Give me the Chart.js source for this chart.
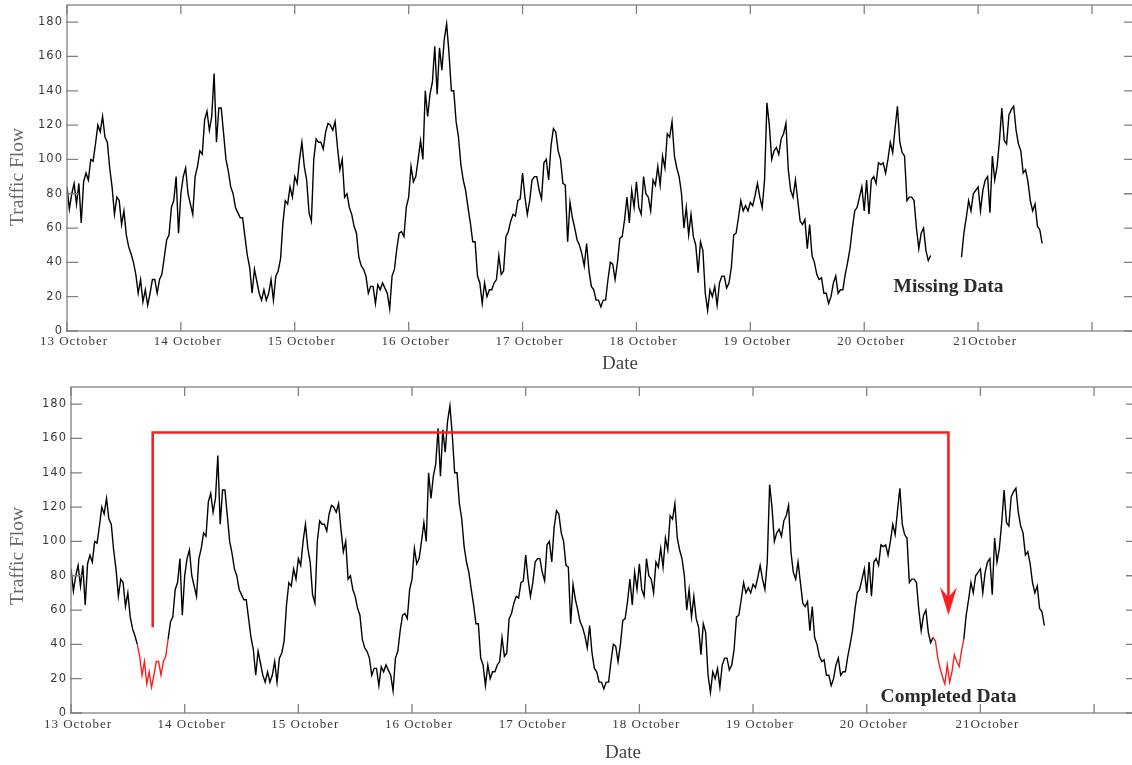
<!DOCTYPE html>
<html>
<head>
<meta charset="utf-8">
<script src="https://cdn.jsdelivr.net/npm/chart.js@4.4.1/dist/chart.umd.min.js"></script>
<style>
  html, body { margin: 0; padding: 0; background: #fff; overflow: hidden; width: 1132px; height: 765px; }
  #wrap { position: relative; width: 1132px; height: 765px; overflow: hidden; }
  canvas { position: absolute; left: 0; }
  #top { top: 0; }
  #bottom { top: 382px; }
</style>
</head>
<body>
<div id="wrap">
  <canvas id="top" width="1140" height="382"></canvas>
  <canvas id="bottom" width="1140" height="383"></canvas>
</div>
<script>
// ---------------- DATA ----------------
const dayLabels = ["13 October", "14 October", "15 October", "16 October", "17 October",
                   "18 October", "19 October", "20 October", "21October", ""];
const xTicks = [0, 1, 2, 3, 4, 5, 6, 7, 8, 9];
const yTicks = [0, 20, 40, 60, 80, 100, 120, 140, 160, 180];
const samplesPerDay = 48;   // one reading every 30 minutes

const oct13 = [84,71,80,86,74,86,63,87,92,88,100,99,109,120,116,125,113,110,95,84,68,78,76,62,70,56,49,45,40,33,22,30,17,24,15,22,30,30,22,30,33,43,53,56,72,76,90,57];
const oct14 = [80,90,95,80,74,68,90,96,105,103,123,128,117,125,150,110,130,130,115,100,93,84,80,72,69,66,66,55,44,37,22,36,29,22,18,24,18,22,30,18,32,35,42,63,76,74,84,78];
const oct15 = [90,86,100,110,96,88,69,64,100,112,110,110,106,116,121,120,117,122,107,94,100,78,80,72,68,61,57,43,38,36,32,22,26,26,16,27,24,28,25,22,13,32,36,48,57,58,55,72];
const oct16 = [78,96,87,90,100,111,100,140,125,138,145,166,138,165,152,170,179,162,140,140,122,113,97,88,82,72,63,52,52,32,28,16,28,20,24,24,28,30,44,33,35,55,58,64,68,67,76,77];
const oct17 = [92,78,68,76,88,90,90,82,77,98,100,88,108,118,116,105,100,86,85,52,75,66,60,53,50,45,38,51,35,26,24,18,18,14,18,18,30,40,39,30,40,54,55,65,78,63,82,72];
const oct18 = [87,72,68,90,80,78,70,88,85,96,85,102,95,115,113,122,102,95,90,80,60,72,56,68,55,50,34,52,47,22,12,24,20,26,15,28,32,32,25,28,37,56,57,66,76,70,73,70];
const oct19 = [75,73,79,86,78,72,88,133,120,100,105,107,103,112,115,121,94,82,78,88,76,64,62,65,48,62,44,40,33,30,31,22,22,16,20,28,32,22,24,24,33,40,48,60,70,72,78,84];
// 20 October as observed (null = missing readings)
const oct20Observed = [70,88,68,88,90,86,98,97,98,92,100,110,104,118,131,110,104,102,76,78,78,76,60,48,57,60,47,41,44,
                       null,null,null,null,null,null,null,null,null,null,null,null,
                       43,57,66,76,70,80,82];
// values used to complete the missing readings
const oct20Completed = [42,32,26,21,17,28,18,24,34,30,27,36];
const oct21 = [84,70,82,88,90,69,102,88,96,111,130,111,109,126,129,131,117,109,105,92,94,87,76,70,74,61,59,51];
// readings (13 October) whose pattern was copied into the gap
const sourceRange = [28, 41];

// ---------------- BUILD SERIES ----------------
const observed = [].concat(oct13, oct14, oct15, oct16, oct17, oct18, oct19, oct20Observed, oct21);
let fillPos = 0;
const completed = observed.map(v => v === null ? oct20Completed[fillPos++] : v);
const firstNull = observed.indexOf(null);
const lastNull = observed.lastIndexOf(null);
const fillRange = [firstNull - 1, lastNull + 1];
const toPoints = arr => arr.map((v, i) => ({ x: i / samplesPerDay, y: v }));

const X_MAX = 9.36, Y_MAX = 190;
const AXIS_COLOR = '#808080';
const TICK_TEXT = '#3a3a3a';
const RED = '#ff1e1e';

const inRange = (i, r) => i >= r[0] && i < r[1];

function framePlugin(cfg) {
  return {
    id: 'frame_' + cfg.id,
    beforeDraw(chart) { chart.ctx.letterSpacing = '1px'; },
    beforeDatasetsDraw(chart) { chart.ctx.letterSpacing = '0px'; },
    afterDatasetsDraw(chart) {
      if (!cfg.arrow) return;
      const { ctx, scales: { x, y } } = chart;
      const xl = x.getPixelForValue((sourceRange[0] + sourceRange[1]) / 2 / samplesPerDay);
      const xr = x.getPixelForValue((fillRange[0] + fillRange[1]) / 2 / samplesPerDay);
      const yStart = y.getPixelForValue(50);
      const yTop = y.getPixelForValue(163.5);
      const yTip = y.getPixelForValue(57);
      ctx.save();
      ctx.strokeStyle = RED; ctx.fillStyle = RED; ctx.lineWidth = 2.6; ctx.lineJoin = 'miter';
      ctx.beginPath();
      ctx.moveTo(xl, yStart); ctx.lineTo(xl, yTop); ctx.lineTo(xr, yTop); ctx.lineTo(xr, yTip - 16);
      ctx.stroke();
      ctx.beginPath();
      ctx.moveTo(xr, yTip);
      ctx.lineTo(xr - 8.5, yTip - 28);
      ctx.lineTo(xr, yTip - 18);
      ctx.lineTo(xr + 8.5, yTip - 28);
      ctx.closePath();
      ctx.fill();
      ctx.restore();
    },
    afterDraw(chart) {
      const { ctx, chartArea: a, scales: { x, y } } = chart;
      ctx.save();
      ctx.letterSpacing = '0px';
      // frame
      ctx.strokeStyle = AXIS_COLOR; ctx.lineWidth = 1.3;
      ctx.strokeRect(a.left, a.top, a.right - a.left, a.bottom - a.top);
      // inward tick marks
      ctx.beginPath();
      xTicks.forEach(v => {
        const px = x.getPixelForValue(v);
        ctx.moveTo(px, a.bottom); ctx.lineTo(px, a.bottom - 9);
        ctx.moveTo(px, a.top); ctx.lineTo(px, a.top + 9);
      });
      yTicks.forEach(v => {
        const py = y.getPixelForValue(v);
        ctx.moveTo(a.left - 1, py); ctx.lineTo(a.left + 11, py);
        ctx.moveTo(a.right, py); ctx.lineTo(a.right - 9, py);
      });
      ctx.stroke();
      // axis titles
      ctx.textAlign = 'center'; ctx.textBaseline = 'middle';
      ctx.save();
      ctx.font = '19.5px "Liberation Serif"';
      ctx.translate(18, (a.top + a.bottom) / 2 + cfg.yTitleShift);
      ctx.rotate(-Math.PI / 2);
      ctx.fillStyle = '#666';
      ctx.fillText('Traffic Flow', 0, 0);
      ctx.restore();
      ctx.font = '19px "Liberation Serif"';
      ctx.textBaseline = 'alphabetic';
      ctx.fillStyle = '#444';
      ctx.fillText('Date', (a.left + a.right) / 2 + 20, a.bottom + cfg.xTitleBase);
      // annotation
      ctx.font = 'bold 19.5px "Liberation Serif"';
      ctx.fillStyle = '#2b2b2b';
      ctx.fillText(cfg.note, x.getPixelForValue(cfg.noteX), y.getPixelForValue(cfg.noteY));
      ctx.restore();
    }
  };
}

function makeChart(cfg) {
  return new Chart(document.getElementById(cfg.id), {
    type: 'line',
    data: {
      datasets: [{
        data: toPoints(cfg.values),
        borderColor: '#000',
        borderWidth: 1.4,
        pointRadius: 0,
        tension: 0,
        spanGaps: false,
        segment: {
          borderColor: ctx => (cfg.redRanges.some(r => inRange(ctx.p0DataIndex, r)) ? RED : '#000')
        }
      }]
    },
    options: {
      responsive: false,
      animation: false,
      devicePixelRatio: 1,
      layout: { padding: { left: 0, top: 5, right: cfg.padRight, bottom: 0 } },
      plugins: { legend: { display: false }, tooltip: { enabled: false } },
      scales: {
        x: {
          type: 'linear', min: 0, max: X_MAX,
          grid: { display: false, drawTicks: false },
          border: { display: false },
          afterBuildTicks: s => { s.ticks = xTicks.map(v => ({ value: v })); },
          afterFit: s => { s.height = cfg.xHeight; s.paddingLeft = 0; s.paddingRight = 0; },
          ticks: {
            autoSkip: false, maxRotation: 0, minRotation: 0,
            padding: cfg.xLabelPad, labelOffset: 7, color: TICK_TEXT,
            font: { family: 'Liberation Serif', size: 13 },
            callback: v => dayLabels[xTicks.indexOf(v)] ?? ''
          }
        },
        y: {
          min: 0, max: Y_MAX,
          grid: { display: false, drawTicks: false },
          border: { display: false },
          afterBuildTicks: s => { s.ticks = yTicks.map(v => ({ value: v })); },
          afterFit: s => { s.width = cfg.yWidth; s.paddingTop = 0; s.paddingBottom = 0; },
          ticks: {
            padding: 4, color: TICK_TEXT,
            font: { family: 'DejaVu Sans', size: 11.5 },
            callback: v => String(v)
          }
        }
      }
    },
    plugins: [framePlugin(cfg)]
  });
}

makeChart({
  id: 'top', values: observed, redRanges: [], padRight: 7, xHeight: 51, yWidth: 67,
  xLabelPad: 3, yTitleShift: 9, xTitleBase: 38,
  note: 'Missing Data', noteX: 7.74, noteY: 22.7, arrow: false
});
makeChart({
  id: 'bottom', values: completed, redRanges: [sourceRange, fillRange], padRight: 5, xHeight: 52, yWidth: 71,
  xLabelPad: 4, yTitleShift: 6, xTitleBase: 45,
  note: 'Completed Data', noteX: 7.72, noteY: 6.2, arrow: true
});
</script>
</body>
</html>
